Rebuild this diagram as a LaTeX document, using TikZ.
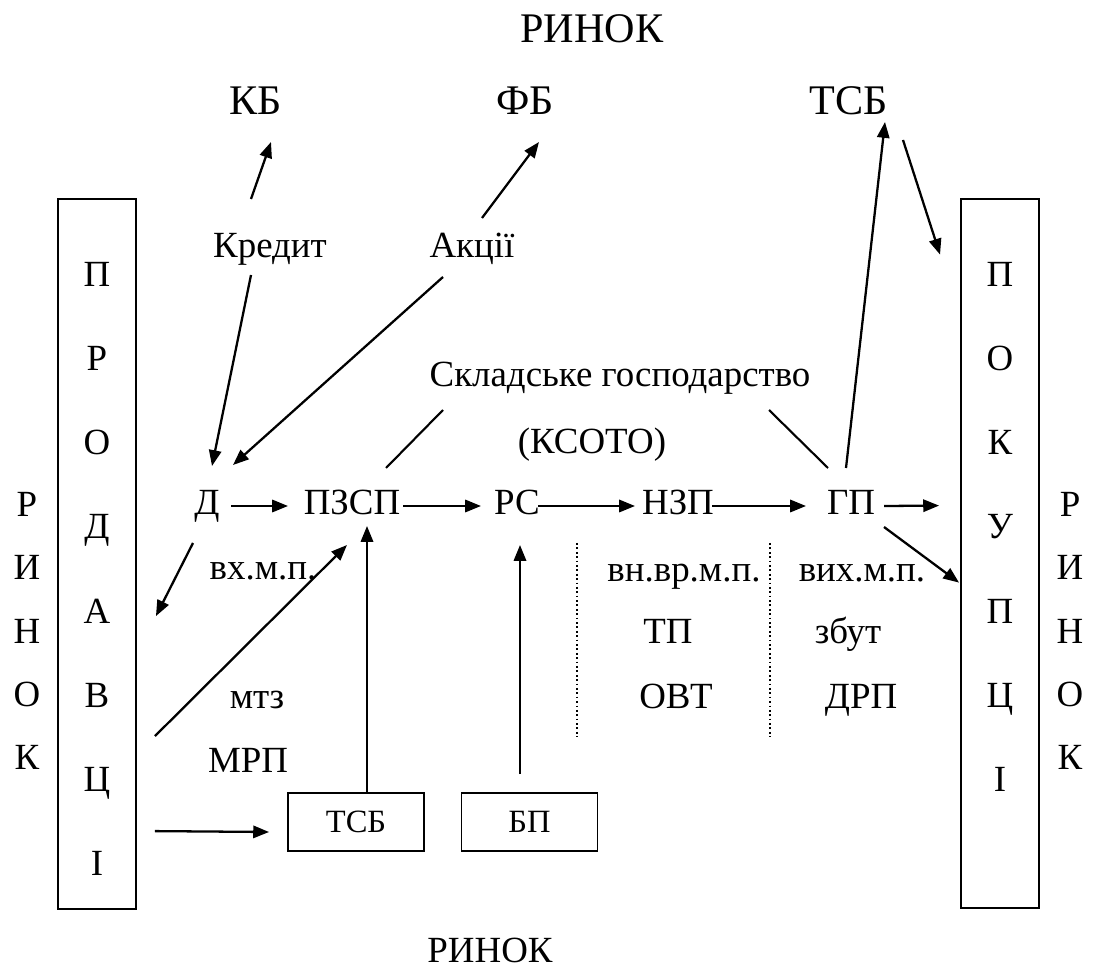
\documentclass[tikz,border=0pt]{standalone}
\usepackage{fontspec}
\setmainfont{Liberation Serif}
\usetikzlibrary{arrows.meta,positioning,calc}

\begin{document}
\begin{tikzpicture}[x=0.02cm,y=-0.02cm,
    txt/.style={font=\fontsize{21}{25}\selectfont, anchor=base, inner sep=0pt},
    big/.style={font=\fontsize{24}{28}\selectfont, anchor=base, inner sep=0pt},
    arr/.style={line width=1.3pt, -{Triangle[length=9pt,width=7pt]}},
    lnk/.style={line width=1.2pt},
    side/.style={draw, line width=1.1pt, minimum width=1.56cm, minimum height=14.2cm, inner sep=0pt},
    sbox/.style={draw, line width=1.1pt, minimum width=2.72cm, minimum height=1.16cm, inner sep=0pt, font=\fontsize{18.5}{22}\selectfont},
    dots/.style={line width=0.9pt, dash pattern=on 1pt off 1.5pt}]
    \useasboundingbox (0,0) rectangle (1096,969);

    % market and banks
    \node[big] (rtop) at (592,43) {РИНОК};
    \node[big] (kb) at (256,115) {КБ};
    \node[big] (fb) at (525,115) {ФБ};
    \node[big] (tsbtop) at (849,115) {ТСБ};
    \node[txt] (kred) at (270,258) {Кредит};
    \node[txt] (akc) at (472,258) {Акції};
    \node[txt] (sklad) at (620,387) {Складське господарство};
    \node[txt] (ksoto) at (592,454) {(КСОТО)};

    % main chain
    \node[txt] (d) at (207,515) {Д};
    \node[txt] (pzsp) at (352,515) {ПЗСП};
    \node[txt] (rs) at (517,515) {РС};
    \node[txt] (nzp) at (678,515) {НЗП};
    \node[txt] (gp) at (851,515) {ГП};

    \node[txt] (vx) at (263,580) {вх.м.п.};
    \node[txt] (vnvr) at (684,582) {вн.вр.м.п.};
    \node[txt] (vyx) at (862,582) {вих.м.п.};
    \node[txt] (tp) at (668,643) {ТП};
    \node[txt] (zbut) at (848,643) {збут};
    \node[txt] (ovt) at (676,708) {ОВТ};
    \node[txt] (drp) at (861,708) {ДРП};
    \node[txt] (mtz) at (257,708) {мтз};
    \node[txt] (mrp) at (248,772) {МРП};
    \node[txt] (rbot) at (490,962) {РИНОК};

    % sellers and buyers
    \node[side] (prod) at (97,554) {};
    \node[side] (pok) at (1000,553.5) {};
    \foreach \ch [count=\i from 0] in {П,Р,О,Д,А,В,Ц,І}
      \node[txt] (prod-\i) at (97,{287+84*\i}) {\ch};
    \foreach \ch [count=\i from 0] in {П,О,К,У,П,Ц,І}
      \node[txt] (pok-\i) at (1000,{287+84*\i}) {\ch};
    \foreach \ch [count=\i from 0] in {Р,И,Н,О,К} {
      \node[txt] (lr-\i) at (27,{517+63*\i}) {\ch};
      \node[txt] (rr-\i) at (1070,{517+63*\i}) {\ch};
    }

    \node[sbox] (tsbbox) at (356,822) {ТСБ};
    \node[sbox] (bp) at (529.5,822) {БП};

    % arrows
    \draw[arr] ($(kred.base)+(-19,-59)$) -- ($(kb.base)+(15,27)$);
    \draw[arr] ($(akc.base)+(10,-40)$) -- ($(fb.base)+(14,27)$);
    \draw[arr] ($(kred.base)+(-19,17)$) -- ($(d.base)+(5,-49)$);
    \draw[arr] ($(akc.base)+(-29,19)$) -- ($(d.base)+(26,-50)$);
    \draw[lnk] ($(sklad.base)+(-177,23)$) -- ($(pzsp.base)+(34,-47)$);
    \draw[lnk] ($(sklad.base)+(149,23)$) -- ($(gp.base)+(-23,-47)$);
    \draw[arr] ($(gp.base)+(-5,-47)$) -- ($(tsbtop.base)+(36,7)$);
    \draw[arr] ($(tsbtop.base)+(54,25)$) -- ($(pok.north west)+(-20,57)$);

    \draw[arr] ($(d.base)+(24,-9)$) -- ($(pzsp.base)+(-64,-9)$);
    \draw[arr] ($(pzsp.base)+(51,-9)$) -- ($(rs.base)+(-36,-9)$);
    \draw[arr] ($(rs.base)+(21,-9)$) -- ($(nzp.base)+(-43,-9)$);
    \draw[arr] ($(nzp.base)+(34,-9)$) -- ($(gp.base)+(-45,-9)$);
    \draw[arr] ($(gp.base)+(33,-9)$) -- ($(pok.north west)+(-21,308)$);
    \draw[arr] ($(gp.base)+(33,12)$) -- ($(pok.north west)+(-1,385)$);

    \draw[arr] ($(d.base)+(-14,28)$) -- ($(prod.north east)+(19,418)$);
    \draw[arr] ($(prod.north east)+(18,538)$) -- ($(pzsp.base)+(-5,30)$);
    \draw[arr] ($(prod.north east)+(18,633)$) -- ($(tsbbox.west)+(-18,10)$);
    \draw[arr] ($(tsbbox.north)+(11,0)$) -- ($(pzsp.base)+(15,11)$);
    \draw[arr] ($(bp.north)+(-9.5,-18)$) -- ($(rs.base)+(3,30)$);

    % stage borders
    \draw[dots] (577,543) -- (577,737);
    \draw[dots] (770,543) -- (770,737);
\end{tikzpicture}
\end{document}
